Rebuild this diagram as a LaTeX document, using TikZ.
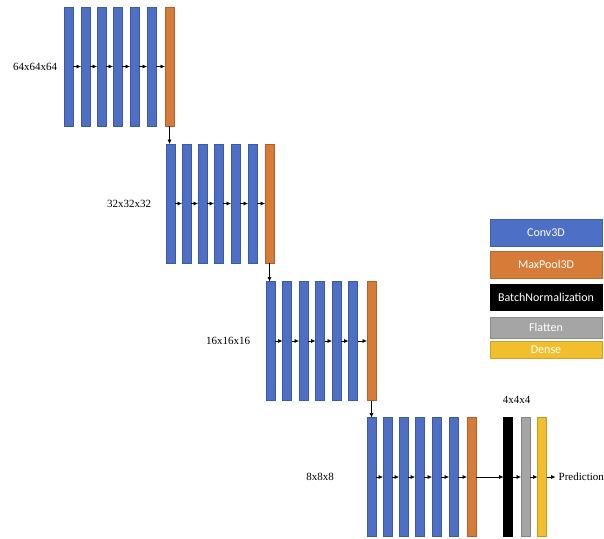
\documentclass[tikz,border=0pt]{standalone}
\usepackage{fontspec}
\setmainfont{Liberation Serif}
\newfontfamily\legendfont{Carlito}
\usetikzlibrary{arrows.meta}
\definecolor{convblue}{HTML}{4D6FC6}
\definecolor{poolorange}{HTML}{D77B38}
\definecolor{bnblack}{HTML}{000000}
\definecolor{flatgray}{HTML}{A5A5A5}
\definecolor{denseyellow}{HTML}{F1BF2E}
\tikzset{
  bar/.style={rectangle, minimum width=9pt, minimum height=119pt, inner sep=0pt, outer sep=0pt,
    fill=#1, draw=#1!80!black, line width=0.5pt},
  arr/.style={-{Latex[length=4.5pt,width=4pt]}, line width=0.6pt, black},
  dimlabel/.style={font=\fontsize{11}{13}\selectfont, inner sep=0pt},
  legbox/.style={rectangle, minimum width=112pt, inner sep=0pt, fill=#1, draw=#1!85!black, line width=0.4pt,
    text=white, font=\legendfont\fontsize{12}{14}\selectfont}
}
\begin{document}
\begin{tikzpicture}[x=1pt,y=-1pt]
\useasboundingbox (0,0) rectangle (604,538);
% Block 1 (left 64, top 7)
\node[bar=convblue] (a1) at (68.5,66.5) {};
\node[bar=convblue] (a2) at (85.5,66.5) {};
\node[bar=convblue] (a3) at (101.5,66.5) {};
\node[bar=convblue] (a4) at (117.5,66.5) {};
\node[bar=convblue] (a5) at (134.5,66.5) {};
\node[bar=convblue] (a6) at (151.5,66.5) {};
\node[bar=poolorange] (ap) at (169.5,66.5) {};
% Block 2 (left 166, top 144)
\node[bar=convblue] (b1) at (170.5,203.5) {};
\node[bar=convblue] (b2) at (186.5,203.5) {};
\node[bar=convblue] (b3) at (202.5,203.5) {};
\node[bar=convblue] (b4) at (218.5,203.5) {};
\node[bar=convblue] (b5) at (235.5,203.5) {};
\node[bar=convblue] (b6) at (252.5,203.5) {};
\node[bar=poolorange] (bp) at (269.5,203.5) {};
% Block 3 (left 266, top 282)
\node[bar=convblue] (c1) at (270.5,341) {};
\node[bar=convblue] (c2) at (287,341) {};
\node[bar=convblue] (c3) at (303.5,341) {};
\node[bar=convblue] (c4) at (320,341) {};
\node[bar=convblue] (c5) at (336.5,341) {};
\node[bar=convblue] (c6) at (353,341) {};
\node[bar=poolorange] (cp) at (371.5,341) {};
% Block 4 (left 367, top 418)
\node[bar=convblue] (d1) at (371.5,477) {};
\node[bar=convblue] (d2) at (387.5,477) {};
\node[bar=convblue] (d3) at (403.5,477) {};
\node[bar=convblue] (d4) at (419.5,477) {};
\node[bar=convblue] (d5) at (436.5,477) {};
\node[bar=convblue] (d6) at (453.5,477) {};
\node[bar=poolorange] (dp) at (471.5,477) {};
\node[bar=bnblack, draw=black] (dbn) at (508,477) {};
\node[bar=flatgray] (dfl) at (525.5,477) {};
\node[bar=denseyellow] (dde) at (542,477) {};
% Labels
\node[dimlabel] (l1) at (35,66.5) {64x64x64};
\node[dimlabel] (l2) at (129,203.5) {32x32x32};
\node[dimlabel] (l3) at (228,341) {16x16x16};
\node[dimlabel] (l4) at (320,477) {8x8x8};
\node[dimlabel] (l5) at (516.5,400) {4x4x4};
\node[dimlabel, anchor=west] (pred) at (558.5,477) {Prediction};
% Horizontal arrows
\foreach \p in {a,b,c,d}{
  \draw[arr] (\p1.east) -- (\p2.west);
  \draw[arr] (\p2.east) -- (\p3.west);
  \draw[arr] (\p3.east) -- (\p4.west);
  \draw[arr] (\p4.east) -- (\p5.west);
  \draw[arr] (\p5.east) -- (\p6.west);
  \draw[arr] (\p6.east) -- (\p p.west);
}
\draw[arr] (dp.east) -- (dbn.west);
\draw[arr] (dbn.east) -- (dfl.west);
\draw[arr] (dfl.east) -- (dde.west);
\draw[arr, shorten >=3pt] (dde.east) -- (pred.west);
% Vertical arrows
\draw[arr] (ap.south) -- (ap.south |- b1.north);
\draw[arr] (bp.south) -- (bp.south |- c1.north);
\draw[arr] (cp.south) -- (cp.south |- d1.north);
% Legend
\node[legbox=convblue, minimum height=27pt] (lg1) at (546,232.5) {Conv3D};
\node[legbox=poolorange, minimum height=27pt] (lg2) at (546,264.5) {MaxPool3D};
\node[legbox=bnblack, draw=black, minimum height=26pt] (lg3) at (546,297) {BatchNormalization};
\node[legbox=flatgray, minimum height=21pt] (lg4) at (546,327.5) {Flatten};
\node[legbox=denseyellow, minimum height=17pt] (lg5) at (546,350) {Dense};
\end{tikzpicture}
\end{document}
